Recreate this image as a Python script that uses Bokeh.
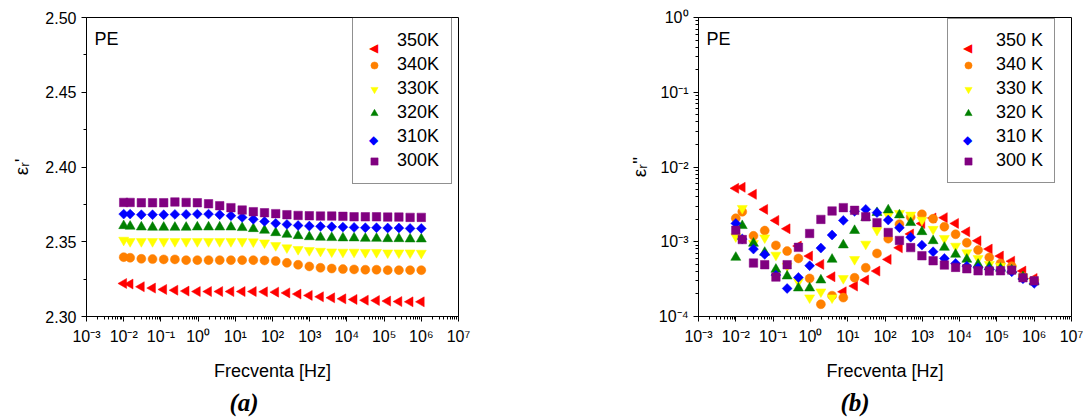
import math
from bokeh.plotting import figure
from bokeh.layouts import row
from bokeh.models import Range1d, FixedTicker, Label, Legend, LegendItem, Title
from bokeh.embed import file_html
from bokeh.resources import INLINE

# ---------------------------------------------------------------- data
freq_hz = [0.01, 0.0149, 0.0298, 0.0596, 0.119, 0.238, 0.477, 0.954, 1.91,
           3.81, 7.63, 15.3, 30.5, 61.0, 122.0, 244.0, 488.0, 977.0, 1950.0,
           3910.0, 7810.0, 15600.0, 31300.0, 62500.0, 125000.0, 250000.0,
           500000.0, 1000000.0]

labels_a = ["350K", "340K", "330K", "320K", "310K", "300K"]
labels_b = ["350 K", "340 K", "330 K", "320 K", "310 K", "300 K"]

# real part of relative permittivity
eps_re_350 = [2.3221, 2.3217, 2.3199, 2.3190, 2.3181, 2.3176, 2.3170, 2.3167,
              2.3167, 2.3167, 2.3167, 2.3167, 2.3167, 2.3165, 2.3163, 2.3158,
              2.3150, 2.3141, 2.3132, 2.3125, 2.3118, 2.3114, 2.3109, 2.3107,
              2.3103, 2.3100, 2.3098, 2.3098]
eps_re_340 = [2.3397, 2.3393, 2.3386, 2.3384, 2.3382, 2.3382, 2.3377, 2.3377,
              2.3377, 2.3377, 2.3377, 2.3377, 2.3377, 2.3375, 2.3371, 2.3359,
              2.3346, 2.3335, 2.3326, 2.3321, 2.3317, 2.3315, 2.3313, 2.3313,
              2.3310, 2.3310, 2.3310, 2.3310]
eps_re_330 = [2.3511, 2.3502, 2.3502, 2.3502, 2.3502, 2.3502, 2.3502, 2.3502,
              2.3502, 2.3502, 2.3502, 2.3502, 2.3500, 2.3493, 2.3475, 2.3460,
              2.3449, 2.3442, 2.3437, 2.3433, 2.3431, 2.3431, 2.3429, 2.3429,
              2.3426, 2.3426, 2.3426, 2.3424]
eps_re_320 = [2.3607, 2.3603, 2.3598, 2.3596, 2.3596, 2.3596, 2.3596, 2.3598,
              2.3598, 2.3598, 2.3598, 2.3594, 2.3587, 2.3576, 2.3560, 2.3549,
              2.3540, 2.3533, 2.3529, 2.3527, 2.3525, 2.3525, 2.3522, 2.3522,
              2.3520, 2.3520, 2.3518, 2.3518]
eps_re_310 = [2.3685, 2.3685, 2.3681, 2.3681, 2.3681, 2.3683, 2.3683, 2.3685,
              2.3685, 2.3681, 2.3674, 2.3663, 2.3650, 2.3636, 2.3623, 2.3616,
              2.3609, 2.3605, 2.3603, 2.3600, 2.3598, 2.3596, 2.3594, 2.3594,
              2.3592, 2.3592, 2.3589, 2.3589]
eps_re_300 = [2.3763, 2.3763, 2.3761, 2.3761, 2.3761, 2.3766, 2.3763, 2.3761,
              2.3754, 2.3741, 2.3728, 2.3712, 2.3701, 2.3694, 2.3688, 2.3681,
              2.3676, 2.3674, 2.3672, 2.3672, 2.3670, 2.3667, 2.3667, 2.3667,
              2.3665, 2.3665, 2.3663, 2.3663]

# imaginary part of relative permittivity (loss)
eps_im_350 = [5.19e-3, 5.35e-3, 4.31e-3, 2.71e-3, 1.93e-3, 1.49e-3, 8.76e-4,
              6.43e-4, 4.98e-4, 3.40e-4, 2.14e-4, 2.55e-4, 3.07e-4, 4.05e-4,
              5.81e-4, 8.30e-4, 1.27e-3, 1.75e-3, 2.08e-3, 2.10e-3, 1.76e-3,
              1.36e-3, 1.03e-3, 7.98e-4, 6.43e-4, 5.50e-4, 4.05e-4, 3.23e-4]
eps_im_340 = [2.06e-3, 2.52e-3, 1.20e-3, 1.41e-3, 8.94e-4, 7.50e-4, 5.99e-4,
              3.23e-4, 1.46e-4, 1.90e-4, 1.79e-4, 3.30e-4, 4.49e-4, 6.98e-4,
              1.10e-3, 1.72e-3, 2.14e-3, 2.33e-3, 2.03e-3, 1.59e-3, 1.26e-3,
              9.70e-4, 7.73e-4, 6.17e-4, 5.13e-4, 4.70e-4, 3.40e-4, 3.00e-4]
eps_im_330 = [1.17e-3, 2.80e-3, 9.50e-4, 1.13e-3, 6.64e-4, 4.73e-4, 2.92e-4,
              1.78e-4, 2.14e-4, 1.78e-4, 3.23e-4, 5.81e-4, 9.31e-4, 1.43e-3,
              2.25e-3, 2.40e-3, 2.28e-3, 1.95e-3, 1.47e-3, 1.11e-3, 8.75e-4,
              7.13e-4, 5.98e-4, 4.98e-4, 4.70e-4, 4.40e-4, 3.40e-4, 2.90e-4]
eps_im_320 = [6.17e-4, 1.64e-3, 9.51e-4, 7.20e-4, 4.27e-4, 3.47e-4, 2.40e-4,
              2.40e-4, 3.07e-4, 5.81e-4, 9.03e-4, 1.41e-3, 2.10e-3, 2.45e-3,
              2.66e-3, 2.28e-3, 1.80e-3, 1.36e-3, 1.03e-3, 8.40e-4, 6.78e-4,
              5.81e-4, 4.98e-4, 4.62e-4, 4.40e-4, 4.20e-4, 3.40e-4, 2.90e-4]
eps_im_310 = [1.76e-3, 1.09e-3, 7.98e-4, 6.77e-4, 3.58e-4, 2.37e-4, 3.33e-4,
              4.78e-4, 8.23e-4, 1.23e-3, 1.93e-3, 2.55e-3, 2.71e-3, 2.45e-3,
              1.95e-3, 1.54e-3, 1.15e-3, 9.00e-4, 7.35e-4, 5.98e-4, 5.13e-4,
              4.72e-4, 4.49e-4, 4.27e-4, 4.18e-4, 3.96e-4, 3.20e-4, 2.77e-4]
eps_im_300 = [1.42e-3, 1.07e-3, 5.19e-4, 4.93e-4, 3.37e-4, 4.93e-4, 8.41e-4,
              1.29e-3, 1.99e-3, 2.58e-3, 2.86e-3, 2.63e-3, 2.16e-3, 1.80e-3,
              1.33e-3, 1.04e-3, 8.35e-4, 6.50e-4, 5.57e-4, 4.88e-4, 4.54e-4,
              4.35e-4, 4.09e-4, 4.05e-4, 4.09e-4, 4.18e-4, 3.30e-4, 3.00e-4]

x_decades = [-3, -2, -1, 0, 1, 2, 3, 4, 5, 6, 7]
y_ticks_a = [2.30, 2.35, 2.40, 2.45, 2.50]
y_tick_labels_a = ["2.30", "2.35", "2.40", "2.45", "2.50"]
y_decades_b = [-4, -3, -2, -1, 0]

# ---------------------------------------------------------------- styles
FONT = "Liberation Sans"
colors = ["#ff0000", "#ff8000", "#ffff00", "#008000", "#0000ff", "#800080"]
markers = ["triangle", "circle", "inverted_triangle", "triangle", "square", "square"]
angles = [math.pi / 2, 0, 0, 0, math.pi / 4, 0]
sizes = [10, 9, 10, 10, 7, 8.5]
# legend glyphs that need a rotated shape are drawn as text symbols
legend_symbols = {0: ("◀", "12px"), 4: ("◆", "12px")}

SUP = str.maketrans("-0123456789", "⁻⁰¹²³⁴⁵⁶⁷⁸⁹")


def pow10_label(e):
    return "10" + str(e).translate(SUP)


def log_ticker(decades):
    majors = [10.0 ** e for e in decades]
    minors = [k * 10.0 ** e for e in decades[:-1] for k in range(2, 10)]
    return FixedTicker(ticks=majors, minor_ticks=minors)


def style_axis(ax):
    ax.axis_line_color = "black"
    ax.axis_line_width = 1
    ax.major_tick_line_color = "black"
    ax.minor_tick_line_color = "black"
    ax.major_tick_in = 0
    ax.major_tick_out = 5
    ax.minor_tick_in = 0
    ax.minor_tick_out = 3
    ax.major_label_text_font = FONT
    ax.major_label_text_font_size = "16px"
    ax.major_label_text_color = "black"
    ax.axis_label_text_font = FONT
    ax.axis_label_text_font_size = "18px"
    ax.axis_label_text_font_style = "normal"
    ax.axis_label_text_color = "black"


def make_panel(width, left, right, y_type, y_range, series, names, y_title,
               y_title_standoff, caption, caption_offset, legend_pad,
               legend_standoff, legend_loc):
    p = figure(width=width, height=420, x_axis_type="log", y_axis_type=y_type,
               x_range=Range1d(1e-3, 1e7), y_range=y_range,
               output_backend="svg", toolbar_location=None,
               min_border_left=left, min_border_right=right,
               min_border_top=17, min_border_bottom=104)
    p.grid.visible = False
    p.outline_line_color = "black"
    p.outline_line_width = 1
    p.background_fill_color = "white"
    p.border_fill_color = "white"

    p.xaxis.ticker = log_ticker(x_decades)
    p.xaxis.major_label_overrides = {10.0 ** e: pow10_label(e) for e in x_decades}
    p.xaxis.axis_label = "Frecventa [Hz]"
    p.xaxis.major_label_standoff = 6
    p.xaxis.axis_label_standoff = 13
    p.yaxis.axis_label = y_title
    p.yaxis.axis_label_standoff = y_title_standoff
    for ax in p.xaxis + p.yaxis:
        style_axis(ax)
    p.yaxis.axis_label_text_font_size = "19px"

    items = []
    for i, (vals, name, c, m, a, s) in enumerate(
            zip(series, names, colors, markers, angles, sizes)):
        r = p.scatter(freq_hz, vals, marker=m, angle=a, size=s,
                      fill_color=c, line_color=c, line_width=0.5)
        if i in legend_symbols:
            # legend entry keeps the label; its symbol is drawn separately
            r = p.scatter([], [], marker="circle", fill_alpha=0, line_alpha=0)
        items.append(LegendItem(label=name, renderers=[r]))

    spacing, glyph, row_h = 3, 18, 20
    leg = Legend(items=items, location=legend_loc, padding=legend_pad,
                 spacing=spacing, glyph_width=glyph, glyph_height=glyph,
                 label_height=row_h, label_standoff=legend_standoff, margin=0,
                 label_text_font=FONT, label_text_font_size="18px",
                 label_text_color="black", border_line_color="#222222",
                 border_line_width=1, background_fill_alpha=0.0)
    p.add_layout(leg)

    n = len(items)
    box_h = 2 * legend_pad + n * row_h + (n - 1) * spacing
    gx = legend_loc[0] + legend_pad + glyph / 2
    top = legend_loc[1] + box_h - legend_pad - row_h / 2
    for i, (sym, fsize) in legend_symbols.items():
        p.add_layout(Label(x=gx, y=top - i * (row_h + spacing),
                           x_units="screen", y_units="screen", text=sym,
                           text_font="DejaVu Sans", text_font_size=fsize,
                           text_align="center", text_baseline="middle",
                           text_color=colors[i]))

    p.add_layout(Label(x=8, y=278, x_units="screen", y_units="screen",
                       text="PE", text_font=FONT, text_font_size="18px",
                       text_baseline="middle", text_color="black"))

    p.add_layout(Title(text=caption, align="left", offset=caption_offset,
                       standoff=6, text_font="Liberation Serif",
                       text_font_size="25px", text_font_style="bold italic",
                       text_color="black"), "below")
    return p


pa = make_panel(541, 86, 83, "linear", Range1d(2.30, 2.50),
                [eps_re_350, eps_re_340, eps_re_330, eps_re_320, eps_re_310, eps_re_300],
                labels_a, "εᵣ'", 10, "(a)", 143, 12, 14, (266, 132))
pa.yaxis.ticker = FixedTicker(ticks=y_ticks_a, minor_ticks=[2.325, 2.375, 2.425, 2.475])
pa.yaxis.major_label_overrides = dict(zip(y_ticks_a, y_tick_labels_a))

pb = make_panel(542, 157, 12, "log", Range1d(1e-4, 1.0),
                [eps_im_350, eps_im_340, eps_im_330, eps_im_320, eps_im_310, eps_im_300],
                labels_b, "εᵣ''", 6, "(b)", 142, 11, 19, (249, 133))
pb.yaxis.ticker = log_ticker(y_decades_b)
pb.yaxis.major_label_overrides = {10.0 ** e: pow10_label(e) for e in y_decades_b}

layout = row(pa, pb)
open("out.html", "w").write(file_html(layout, INLINE))
